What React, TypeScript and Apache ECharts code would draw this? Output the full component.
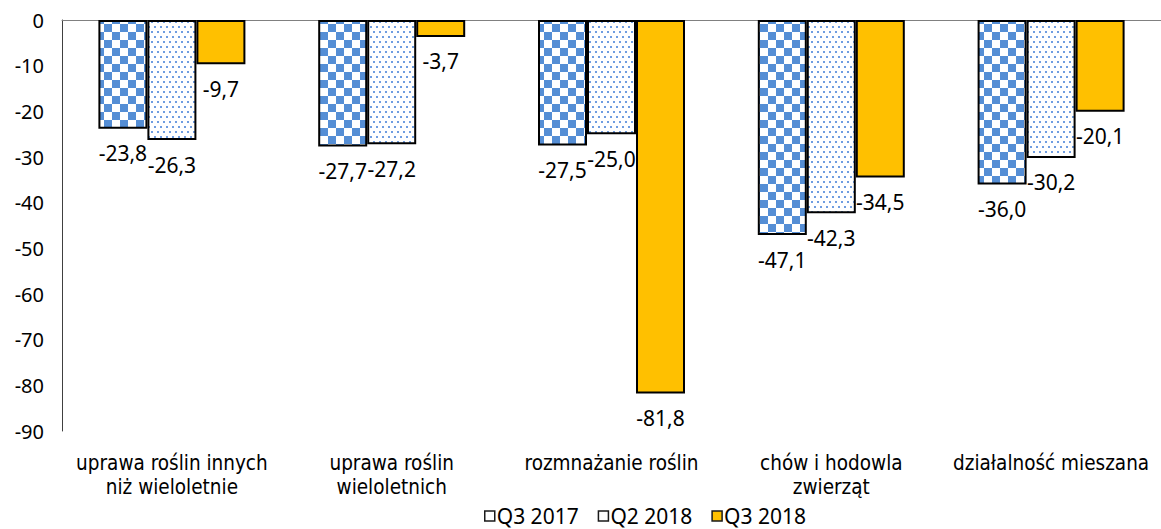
import React, { useEffect, useRef } from "react";
import * as echarts from "echarts";

const categories = [
  "uprawa roślin innych\nniż wieloletnie",
  "uprawa roślin\nwieloletnich",
  "rozmnażanie roślin",
  "chów i hodowla\nzwierząt",
  "działalność mieszana",
];
const seriesNames = ["Q3 2017", "Q2 2018", "Q3 2018"];
const q3_2017 = [-23.8, -27.7, -27.5, -47.1, -36.0];
const q2_2018 = [-26.3, -27.2, -25.0, -42.3, -30.2];
const q3_2018 = [-9.7, -3.7, -81.8, -34.5, -20.1];
const yMin = -90;
const yMax = 0;
const yStep = 10;

function checkerPattern() {
  const c = document.createElement("canvas");
  c.width = 16;
  c.height = 16;
  const ctx = c.getContext("2d")!;
  ctx.fillStyle = "#ffffff";
  ctx.fillRect(0, 0, 16, 16);
  ctx.fillStyle = "#558ed5";
  ctx.fillRect(0, 0, 8, 8);
  ctx.fillRect(8, 8, 8, 8);
  return { image: c.toDataURL(), imageWidth: 16, imageHeight: 16, repeat: "repeat" };
}

function dotPattern() {
  const c = document.createElement("canvas");
  c.width = 6;
  c.height = 10;
  const ctx = c.getContext("2d")!;
  ctx.fillStyle = "#ffffff";
  ctx.fillRect(0, 0, 6, 10);
  ctx.fillStyle = "#6f9de0";
  ctx.fillRect(1, 1, 2, 2);
  ctx.fillRect(4, 6, 2, 2);
  return { image: c.toDataURL(), imageWidth: 6, imageHeight: 10, repeat: "repeat" };
}

const fmt = (p: any) => Number(p.value).toFixed(1).replace(".", ",");
const numFont = "'Noto Sans', 'Open Sans', sans-serif";
const catFont = "'DejaVu Sans Condensed', 'Liberation Sans', sans-serif";

export default function App() {
  const ref = useRef<HTMLDivElement>(null);
  useEffect(() => {
    if (!ref.current) return;
    const chart = echarts.init(ref.current, null, { renderer: "svg" });
    const label = {
      show: true,
      position: "bottom",
      distance: 14,
      fontFamily: numFont,
      fontSize: 21,
      color: "#000",
      formatter: fmt,
    };
    const mk = (name: string, data: number[], color: any) => ({
      name,
      type: "bar",
      data,
      barWidth: 49,
      barGap: "0%",
      itemStyle: { color, borderColor: "#000", borderWidth: 2 },
      label,
    });
    chart.setOption({
      animation: false,
      backgroundColor: "#fff",
      grid: { left: 62, top: 20, right: -7, bottom: 98 },
      legend: {
        left: 484,
        top: 505,
        padding: 0,
        itemWidth: 10,
        itemHeight: 10,
        itemGap: 19,
        textStyle: {
          fontFamily: numFont,
          fontSize: 21,
          lineHeight: 22,
          color: "#000",
          padding: [0, 0, 0, -3],
        },
        data: [
          { name: seriesNames[0], icon: "rect", itemStyle: { color: "#fff", borderColor: "#1a1a1a", borderWidth: 1.5 } },
          { name: seriesNames[1], icon: "rect", itemStyle: { color: "#fff", borderColor: "#1a1a1a", borderWidth: 1.5 } },
          { name: seriesNames[2], icon: "rect", itemStyle: { color: "#ffc000", borderColor: "#1a1a1a", borderWidth: 1.5 } },
        ],
      },
      xAxis: [
        {
          type: "category",
          data: categories,
          position: "bottom",
          axisLine: { show: false },
          axisTick: { show: false },
          axisLabel: {
            interval: 0,
            margin: 20,
            fontFamily: catFont,
            fontSize: 20.5,
            lineHeight: 24,
            color: "#000",
          },
        },
        {
          type: "category",
          data: categories,
          position: "top",
          axisLine: { show: true, onZero: false, lineStyle: { color: "#808080", width: 1 } },
          axisTick: { show: false },
          axisLabel: { show: false },
        },
      ],
      yAxis: {
        type: "value",
        min: yMin,
        max: yMax,
        interval: yStep,
        axisLine: { show: true, lineStyle: { color: "#404040", width: 1 } },
        axisTick: { show: false },
        splitLine: { show: false },
        axisLabel: { fontFamily: numFont, fontSize: 20, color: "#000", margin: 18 },
      },
      series: [
        mk(seriesNames[0], q3_2017, checkerPattern()),
        mk(seriesNames[1], q2_2018, dotPattern()),
        mk(seriesNames[2], q3_2018, "#ffc000"),
      ],
    });
    return () => chart.dispose();
  }, []);
  return (
    <div
      ref={ref}
      style={{ position: "absolute", left: 0, top: 0, width: 1161, height: 529, background: "#fff" }}
    />
  );
}
